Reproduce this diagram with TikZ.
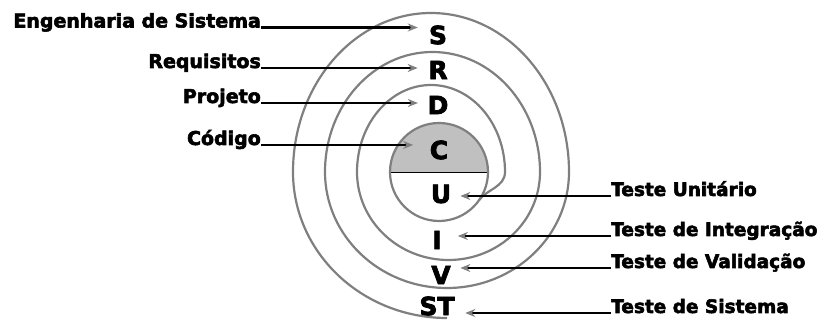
\documentclass[tikz,border=0pt]{standalone}
\usepackage{fontspec}
\setmainfont{DejaVu Sans}[BoldFeatures={FakeBold=3}]
\usetikzlibrary{arrows.meta}
\definecolor{spiral}{HTML}{7F7F7F}
\definecolor{coreshade}{HTML}{C0C0C0}
\begin{document}
\begin{tikzpicture}[x=1pt,y=1pt,
  sp/.style={draw=spiral,line width=2.2pt},
  lbl/.style={inner sep=0pt,font=\bfseries\fontsize{19}{21}\selectfont},
  rlbl/.style={inner sep=0pt,font=\bfseries\fontsize{18.5}{20}\selectfont},
  letter/.style={inner sep=0pt,font=\bfseries\fontsize{25}{27}\selectfont},
  arr/.style={line width=2.4pt,-{Stealth[length=10pt,width=8pt,color=spiral]}}]
\useasboundingbox (0,0) rectangle (824,320);
% core
\fill[coreshade] (390,148) arc[start angle=180,end angle=0,radius=49] -- cycle;
\draw[black,line width=0.8pt] (390,148) -- (488,148);
\draw[sp] (439,148) circle[radius=49];
% spiral
\draw[sp] (357,148) arc[start angle=180,end angle=0,x radius=74,y radius=87]
  .. controls (505,133) and (486.6,130.5) .. (479.1,119.9);
\draw[sp] (357,148) arc[start angle=180,end angle=360,x radius=91.5,y radius=88];
\draw[sp] (325,148) arc[start angle=180,end angle=0,x radius=107.5,y radius=120];
\draw[sp] (325,148) arc[start angle=180,end angle=360,x radius=122,y radius=116];
\draw[sp] (293,148) arc[start angle=180,end angle=0,x radius=138,y radius=159];
\draw[sp] (293,148) arc[start angle=180,end angle=270,x radius=154,y radius=146];
% letters
\node[letter] (S) at (438,285) {S};
\node[letter] (R) at (438,250) {R};
\node[letter] (D) at (438,215) {D};
\node[letter] (C) at (439,170) {C};
\node[letter] (U) at (441,126) {U};
\node[letter] (I) at (437,80) {I};
\node[letter] (V) at (441,45) {V};
\node[letter] (ST) at (437,14) {ST};
% labels
\node[lbl,anchor=base east] (eng) at (261,292.5) {Engenharia de Sistema};
\node[lbl,anchor=base east] (req) at (261,252) {Requisitos};
\node[lbl,anchor=base east] (proj) at (261,217) {Projeto};
\node[lbl,anchor=base east] (cod) at (261,175) {Código};
\node[rlbl,anchor=base west] (tu) at (611,124) {Teste Unitário};
\node[rlbl,anchor=base west] (ti) at (611,84) {Teste de Integração};
\node[rlbl,anchor=base west] (tv) at (611,52) {Teste de Validação};
\node[rlbl,anchor=base west] (ts) at (611,7) {Teste de Sistema};
% arrows
\draw[arr,shorten >=11pt] (eng.base east) -- (eng.base east -| S.west);
\draw[arr,shorten >=10.5pt] (req.base east) -- (req.base east -| R.west);
\draw[arr,shorten >=9.5pt] (proj.base east) -- (proj.base east -| D.west);
\draw[arr,shorten >=16.5pt] (cod.base east) -- (cod.base east -| C.west);
\draw[arr,shorten >=9pt] (tu.base west) -- (tu.base west -| U.east);
\draw[arr,shorten >=16pt] (ti.base west) -- (ti.base west -| I.east);
\draw[arr,shorten >=9.5pt] (tv.base west) -- (tv.base west -| V.east);
\draw[arr,shorten >=10.5pt] (ts.base west) -- (ts.base west -| ST.east);
\end{tikzpicture}
\end{document}
